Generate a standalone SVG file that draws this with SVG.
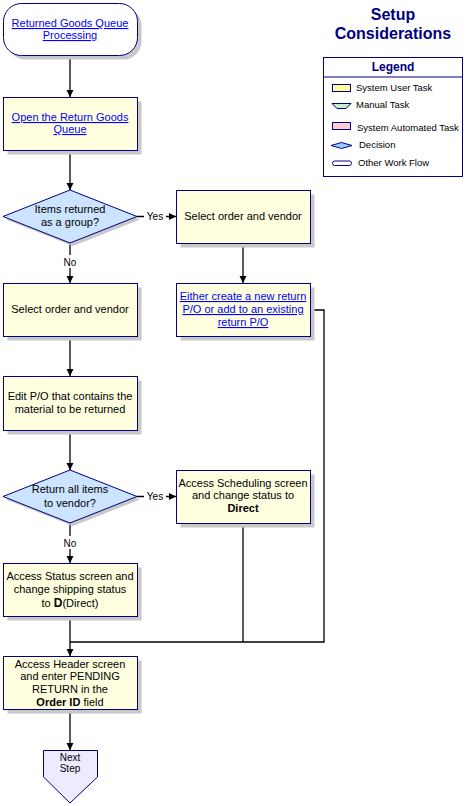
<svg xmlns="http://www.w3.org/2000/svg" width="466" height="806" viewBox="0 0 466 806">
<defs>
<marker id="arr" markerUnits="userSpaceOnUse" markerWidth="8" markerHeight="8" refX="7" refY="4" orient="auto">
<path d="M0,0.5 L7,4 L0,7.5 z" fill="#000"/>
</marker>
<style>
.t{font-family:"Liberation Sans",Arial,sans-serif;font-size:11px;fill:#000;text-anchor:middle}
.lk{fill:#0000FF;text-decoration:underline}
.b{font-weight:bold}
.box{fill:#FFFFE0;stroke:#000080;stroke-width:1}
.sh{fill:#C8C8C8}
.dia{fill:#CCE4FF;stroke:#000080;stroke-width:1}
.c{fill:none;stroke:#000;stroke-width:1.3}
.lg{font-family:"Liberation Sans",Arial,sans-serif;font-size:9.5px;fill:#000}
.lbl{font-family:"Liberation Sans",Arial,sans-serif;font-size:10px;fill:#000;text-anchor:middle}
</style>
</defs>
<rect width="466" height="806" fill="#fff"/>

<g id="connectors">
<line class="c" x1="70" y1="56" x2="70" y2="97" marker-end="url(#arr)"/>
<line class="c" x1="70" y1="151" x2="70" y2="190" marker-end="url(#arr)"/>
<line class="c" x1="137" y1="216.5" x2="176" y2="216.5" marker-end="url(#arr)"/>
<line class="c" x1="243" y1="244" x2="243" y2="283" marker-end="url(#arr)"/>
<line class="c" x1="70" y1="243" x2="70" y2="283" marker-end="url(#arr)"/>
<line class="c" x1="70" y1="337" x2="70" y2="376" marker-end="url(#arr)"/>
<line class="c" x1="70" y1="431" x2="70" y2="470" marker-end="url(#arr)"/>
<line class="c" x1="137" y1="496.5" x2="176" y2="496.5" marker-end="url(#arr)"/>
<line class="c" x1="70" y1="523" x2="70" y2="563" marker-end="url(#arr)"/>
<line class="c" x1="70" y1="617" x2="70" y2="656" marker-end="url(#arr)"/>
<line class="c" x1="70" y1="710" x2="70" y2="750" marker-end="url(#arr)"/>
<polyline class="c" points="311,310 324,310 324,642 70,642"/>
<line class="c" x1="243" y1="524" x2="243" y2="642"/>
<rect x="144" y="210" width="22" height="13" fill="#fff"/>
<text class="lbl" x="155" y="220">Yes</text>
<rect x="62" y="255" width="16" height="13" fill="#fff"/>
<text class="lbl" x="70" y="265.5">No</text>
<rect x="144" y="490" width="22" height="13" fill="#fff"/>
<text class="lbl" x="155" y="500">Yes</text>
<rect x="62" y="536" width="16" height="13" fill="#fff"/>
<text class="lbl" x="70" y="546.5">No</text>
</g>

<g id="start">
<rect class="sh" x="7.5" y="7.5" width="134" height="52" rx="18"/>
<rect x="3.5" y="3.5" width="134" height="52" rx="18" fill="#fff" stroke="#000080"/>
<text class="t lk" x="70" y="27">Returned Goods Queue</text>
<text class="t lk" x="70" y="39">Processing</text>
</g>

<g id="open-queue">
<rect class="sh" x="7.5" y="101.5" width="134" height="53"/>
<rect class="box" x="3.5" y="97.5" width="134" height="53"/>
<text class="t lk" x="70" y="121">Open the Return Goods</text>
<text class="t lk" x="70" y="133">Queue</text>
</g>

<g id="decision1">
<polygon class="sh" points="73,193 140,219.5 73,246 6,219.5"/>
<polygon class="dia" points="70,190 137,216.5 70,243 3,216.5"/>
<text class="t" x="70" y="213">Items returned</text>
<text class="t" x="70" y="226">as a group?</text>
</g>

<g id="select-right">
<rect class="sh" x="180.5" y="194.5" width="134" height="53"/>
<rect class="box" x="176.5" y="190.5" width="134" height="53"/>
<text class="t" x="243" y="220">Select order and vendor</text>
</g>

<g id="create-po">
<rect class="sh" x="180.5" y="287.5" width="134" height="53"/>
<rect class="box" x="176.5" y="283.5" width="134" height="53"/>
<text class="t lk" x="243" y="300">Either create a new return</text>
<text class="t lk" x="243" y="313">P/O or add to an existing</text>
<text class="t lk" x="243" y="326">return P/O </text>
</g>

<g id="select-left">
<rect class="sh" x="7.5" y="287.5" width="134" height="53"/>
<rect class="box" x="3.5" y="283.5" width="134" height="53"/>
<text class="t" x="70" y="313">Select order and vendor</text>
</g>

<g id="edit-po">
<rect class="sh" x="7.5" y="380.5" width="134" height="54"/>
<rect class="box" x="3.5" y="376.5" width="134" height="54"/>
<text class="t" x="70" y="400">Edit P/O that contains the</text>
<text class="t" x="70" y="413">material to be returned</text>
</g>

<g id="decision2">
<polygon class="sh" points="73,473 140,499.5 73,526 6,499.5"/>
<polygon class="dia" points="70,470 137,496.5 70,523 3,496.5"/>
<text class="t" x="70" y="493">Return all items</text>
<text class="t" x="70" y="507">to vendor?</text>
</g>

<g id="scheduling">
<rect class="sh" x="180.5" y="474.5" width="134" height="53"/>
<rect class="box" x="176.5" y="470.5" width="134" height="53"/>
<text class="t" x="243" y="487">Access Scheduling screen</text>
<text class="t" x="243" y="499">and change status to</text>
<text class="t b" x="243" y="512">Direct</text>
</g>

<g id="status">
<rect class="sh" x="7.5" y="567.5" width="134" height="53"/>
<rect class="box" x="3.5" y="563.5" width="134" height="53"/>
<text class="t" x="70" y="580">Access Status screen and</text>
<text class="t" x="70" y="593">change shipping status</text>
<text class="t" x="70" y="607">to  <tspan class="b" font-size="12px">D</tspan>(Direct)</text>
</g>

<g id="header">
<rect class="sh" x="7.5" y="660.5" width="134" height="53"/>
<rect class="box" x="3.5" y="656.5" width="134" height="53"/>
<text class="t" x="70" y="668">Access Header screen</text>
<text class="t" x="70" y="680">and enter PENDING</text>
<text class="t" x="70" y="693">RETURN in the</text>
<text class="t" x="70" y="706"><tspan class="b">Order ID</tspan> field</text>
</g>

<g id="next-step">
<polygon points="43.5,750.5 97.5,750.5 97.5,777 70,803 43.5,777" fill="#EEEAFF" stroke="#000080"/>
<text class="lbl" x="70" y="761">Next</text>
<text class="lbl" x="70" y="772">Step</text>
</g>

<g id="title">
<text x="393" y="20" font-family="Liberation Sans,Arial,sans-serif" font-size="16" font-weight="bold" fill="#000080" text-anchor="middle">Setup</text>
<text x="393" y="39" font-family="Liberation Sans,Arial,sans-serif" font-size="16" font-weight="bold" fill="#000080" text-anchor="middle">Considerations</text>
</g>

<g id="legend">
<rect x="323.5" y="57.5" width="139" height="119" fill="#fff" stroke="#000080"/>
<line x1="323.5" y1="77" x2="462.5" y2="77" stroke="#000080"/>
<text x="393" y="71" font-family="Liberation Sans,Arial,sans-serif" font-size="12" font-weight="bold" fill="#000080" text-anchor="middle">Legend</text>
<rect x="332.5" y="84.5" width="18" height="7" fill="#FFFF99" stroke="#000080"/>
<text class="lg" x="356" y="91">System User Task</text>
<polygon points="332,103.5 351,103.5 346,108.5 337,108.5" fill="#C0F0C8" stroke="#000080"/>
<text class="lg" x="356" y="108">Manual Task</text>
<rect x="332.5" y="122.5" width="18" height="7" fill="#FFCCCC" stroke="#000080"/>
<text class="lg" x="357" y="131">System Automated Task</text>
<polygon points="331,145.5 341.5,142.5 352,145.5 341.5,148.5" fill="#99CCFF" stroke="#000080"/>
<text class="lg" x="359" y="148">Decision</text>
<rect x="332.5" y="161" width="19" height="4.5" rx="2.2" fill="#fff" stroke="#000080"/>
<text class="lg" x="358" y="166">Other Work Flow</text>
</g>
</svg>
